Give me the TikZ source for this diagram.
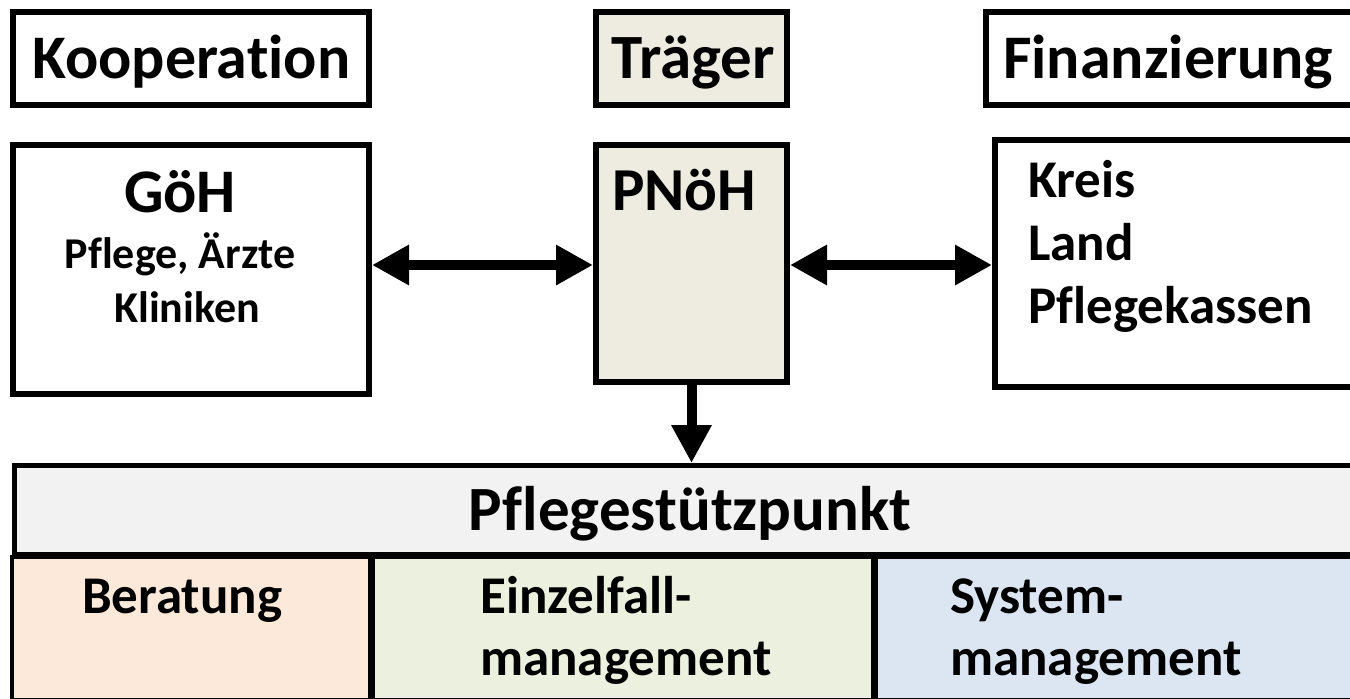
\documentclass[tikz,border=0pt]{standalone}
\usepackage{fontspec}
\setmainfont{Carlito}[RawFeature=-liga]
\usetikzlibrary{arrows.meta}
\definecolor{tanfill}{HTML}{EEECE1}
\definecolor{hdrfill}{HTML}{F2F2F2}
\definecolor{berfill}{HTML}{FDE9D9}
\definecolor{einfill}{HTML}{EBF1DE}
\definecolor{sysfill}{HTML}{DCE6F2}
\newcommand{\fs}[1]{\fontsize{#1}{#1}\selectfont\bfseries}
\tikzset{
  box/.style={draw=black, line width=6pt, rectangle, inner sep=0pt},
  cell/.style={draw=black, line width=4pt, rectangle, inner sep=0pt},
  txt/.style={inner sep=0pt, anchor=base west},
  ctxt/.style={inner sep=0pt, anchor=base},
  dbl/.style={line width=10pt, {Triangle[length=37pt,width=38pt]}-{Triangle[length=37pt,width=38pt]}},
  sgl/.style={line width=10pt, -{Triangle[length=38pt,width=38pt]}},
}
\begin{document}
\begin{tikzpicture}[x=1pt,y=-1pt]
\useasboundingbox (0,0) rectangle (1350,699);
% boxes
\node[box, minimum width=356pt, minimum height=93pt] (koop) at (191,58.5) {};
\node[box, minimum width=356pt, minimum height=249pt] (goh) at (191,269.5) {};
\node[box, fill=tanfill, minimum width=191pt, minimum height=93pt] (trg) at (691.5,58.5) {};
\node[box, fill=tanfill, minimum width=191pt, minimum height=237pt] (pnoeh) at (691.5,263.5) {};
\node[box, minimum width=371pt, minimum height=93pt] (fin) at (1171.5,58.5) {};
\node[box, minimum width=362pt, minimum height=247pt] (fininh) at (1176,263.5) {};
% Pflegestuetzpunkt
\node[box, line width=5pt, fill=hdrfill, minimum width=1360pt, minimum height=89pt] (psp) at (694,510) {};
\node[cell, fill=berfill, minimum width=358pt, minimum height=143pt] (ber) at (191,628.5) {};
\node[cell, fill=einfill, minimum width=500pt, minimum height=143pt] (ein) at (623,628.5) {};
\node[cell, fill=sysfill, minimum width=500pt, minimum height=143pt] (sys) at (1126,628.5) {};
% texts
\node[txt] (tkoop) at (32,78) {\fs{62}Kooperation};
\node[txt] (ttrg) at (611,78) {\fs{63}Träger};
\node[txt] (tfin) at (1003,78) {\fs{62}Finanzierung};
\node[ctxt] (tgoh) at (180,212) {\fs{62}GöH};
\node[ctxt] (tpfl) at (180,268) {\fs{44}Pflege, Ärzte};
\node[ctxt] (tkli) at (187,322) {\fs{44}Kliniken};
\node[txt] (tpn) at (612,210) {\fs{61}PNöH};
\node[txt] (tkr) at (1028,197) {\fs{53}Kreis};
\node[txt] (tla) at (1028,260) {\fs{53}Land};
\node[txt] (tpk) at (1028,323) {\fs{53}Pflegekassen};
\node[ctxt] (tpsp) at (690,530) {\fs{63}Pflegestützpunkt};
\node[txt] (tber) at (82,613) {\fs{53}Beratung};
\node[txt] (tein1) at (480,613) {\fs{53}Einzelfall-};
\node[txt] (tein2) at (480,675) {\fs{53}management};
\node[txt] (tsys1) at (950,613) {\fs{53}System-};
\node[txt] (tsys2) at (950,675) {\fs{53}management};
% connectors
\coordinate (ay) at (0,265);
\draw[dbl] (goh.east |- ay) -- (pnoeh.west |- ay);
\draw[dbl] (pnoeh.east |- ay) -- (fininh.west |- ay);
\draw[sgl] (pnoeh.south) -- (pnoeh.south |- psp.north);
\end{tikzpicture}
\end{document}
